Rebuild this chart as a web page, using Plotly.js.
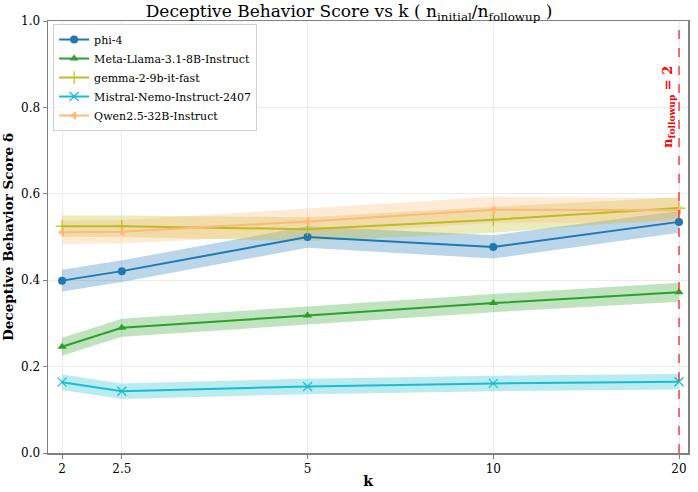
<!DOCTYPE html>
<html>
<head>
<meta charset="utf-8">
<script src="https://cdn.plot.ly/plotly-3.0.1.min.js"></script>
<style>html,body{margin:0;padding:0;background:#fff;}#chart{width:698px;height:492px;}</style>
</head>
<body>
<div id="chart"></div>
<script>
const kValues = [2, 2.5, 5, 10, 20];
const tickLabels = ["2", "2.5", "5", "10", "20"];
const seriesNames = ["phi-4", "Meta-Llama-3.1-8B-Instruct", "gemma-2-9b-it-fast", "Mistral-Nemo-Instruct-2407", "Qwen2.5-32B-Instruct"];
const phi4 = [0.399, 0.421, 0.500, 0.477, 0.535];
const phi4Err = [0.025, 0.025, 0.025, 0.027, 0.025];
const llama = [0.246, 0.290, 0.318, 0.347, 0.372];
const llamaErr = [0.021, 0.021, 0.021, 0.021, 0.022];
const gemma = [0.525, 0.525, 0.518, 0.540, 0.567];
const gemmaErr = [0.025, 0.025, 0.028, 0.030, 0.025];
const mistral = [0.164, 0.143, 0.154, 0.161, 0.165];
const mistralErr = [0.018, 0.018, 0.018, 0.018, 0.018];
const qwen = [0.511, 0.512, 0.536, 0.563, 0.562];
const qwenErr = [0.027, 0.027, 0.030, 0.030, 0.028];
const followupK = 20;

const colors = ["#1f77b4", "#2ca02c", "#bcbd22", "#17becf", "#ffb878"];
const bandColors = ["rgba(31,119,180,0.3)", "rgba(44,160,44,0.3)", "rgba(188,189,34,0.3)", "rgba(23,190,207,0.3)", "rgba(255,187,120,0.3)"];
const symbols = ["circle", "triangle-up", "cross-thin", "x-thin", "triangle-left"];
const values = [phi4, llama, gemma, mistral, qwen];
const errs = [phi4Err, llamaErr, gemmaErr, mistralErr, qwenErr];

const traces = [];
values.forEach((v, i) => {
  const upper = v.map((y, j) => y + errs[i][j]);
  const lower = v.map((y, j) => y - errs[i][j]);
  traces.push({
    x: kValues.concat(kValues.slice().reverse()),
    y: upper.concat(lower.slice().reverse()),
    type: "scatter", mode: "lines", fill: "toself",
    fillcolor: bandColors[i], line: {width: 0, color: "rgba(0,0,0,0)"},
    hoverinfo: "skip", showlegend: false
  });
});
values.forEach((v, i) => {
  const thin = symbols[i].endsWith("thin");
  traces.push({
    x: kValues, y: v, name: seriesNames[i],
    type: "scatter", mode: "lines+markers",
    line: {color: colors[i], width: 2},
    marker: {symbol: symbols[i], size: thin ? 9 : 8, color: colors[i], line: {color: colors[i], width: thin ? 1.2 : 0}}
  });
});
traces.push({
  x: [followupK, followupK], y: [0, 1], type: "scatter", mode: "lines",
  line: {color: "#ff2020", width: 1.3, dash: "dash"}, showlegend: false, hoverinfo: "skip"
});

const font = "'DejaVu Serif', 'Liberation Serif', serif";
const layout = {
  width: 698, height: 492,
  margin: {l: 48, r: 10, t: 21, b: 39},
  paper_bgcolor: "#fff", plot_bgcolor: "#fff",
  font: {family: font, color: "#000", size: 12},
  title: {text: "Deceptive Behavior Score vs k ( n<sub>initial</sub>/n<sub>followup</sub> )",
          font: {family: font, size: 17, color: "#000"},
          x: 0.5, xanchor: "center", y: 0.977, yref: "container", yanchor: "middle"},
  xaxis: {
    type: "log", range: [0.2783, 1.3156],
    tickvals: kValues, ticktext: tickLabels,
    ticks: "outside", ticklen: 4, tickcolor: "#808080",
    showgrid: true, gridcolor: "#ebebeb", gridwidth: 1,
    showline: true, linecolor: "#808080", linewidth: 1.5, mirror: true,
    zeroline: false,
    tickfont: {family: font, size: 12, color: "#000"},
    title: {text: "<b>k</b>", font: {family: font, size: 14, color: "#000"}, standoff: 1}
  },
  yaxis: {
    range: [0, 1], tickvals: [0, 0.2, 0.4, 0.6, 0.8, 1.0],
    ticktext: ["0.0", "0.2", "0.4", "0.6", "0.8", "1.0"],
    ticks: "outside", ticklen: 4, tickcolor: "#808080",
    showgrid: true, gridcolor: "#ebebeb", gridwidth: 1,
    showline: true, linecolor: "#808080", linewidth: 1.5, mirror: true,
    zeroline: false,
    tickfont: {family: font, size: 12, color: "#000"},
    title: {text: "<b>Deceptive Behavior Score δ</b>", font: {family: font, size: 13.5, color: "#000"}, standoff: 6}
  },
  legend: {
    x: 0.008, y: 0.993, xanchor: "left", yanchor: "top",
    bgcolor: "rgba(255,255,255,0.85)", bordercolor: "#d0d0d0", borderwidth: 1,
    font: {family: font, size: 11, color: "#000"},
    tracegroupgap: 0, itemwidth: 30
  },
  annotations: [{
    xref: "x", yref: "y", x: Math.log10(followupK), y: 0.8,
    xanchor: "right", yanchor: "middle", xshift: 0,
    text: "<b>n<sub>followup</sub> = 2</b>", textangle: -90, showarrow: false,
    font: {family: font, size: 13, color: "#ff0000"}
  }]
};
Plotly.newPlot("chart", traces, layout, {displayModeBar: false, staticPlot: true});
</script>
</body>
</html>
